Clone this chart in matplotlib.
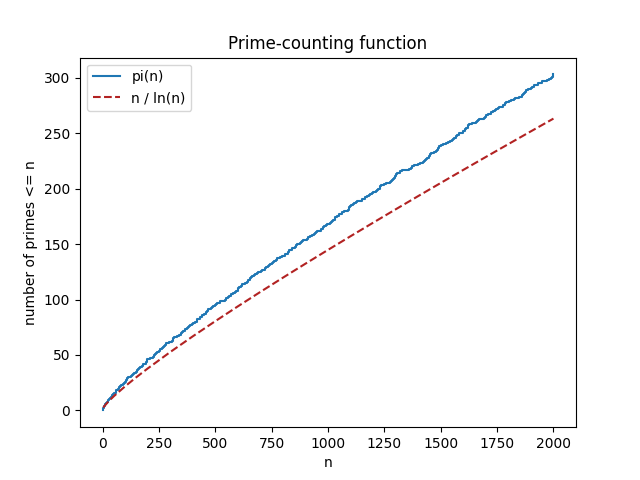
"""Prime-counting function pi(n) against the n / ln(n) estimate."""
import matplotlib
matplotlib.use("Agg")
import matplotlib.pyplot as plt
import numpy as np

# primes up to 2000 (pi(n) is the running count of these)
PRIMES = [
    2, 3, 5, 7, 11, 13, 17, 19, 23, 29, 31, 37, 41, 43, 47, 53, 59, 61, 67, 71, 73, 79, 83, 89, 97,
    101, 103, 107, 109, 113, 127, 131, 137, 139, 149, 151, 157, 163, 167, 173, 179, 181, 191, 193, 197, 199,
    211, 223, 227, 229, 233, 239, 241, 251, 257, 263, 269, 271, 277, 281, 283, 293,
    307, 311, 313, 317, 331, 337, 347, 349, 353, 359, 367, 373, 379, 383, 389, 397,
    401, 409, 419, 421, 431, 433, 439, 443, 449, 457, 461, 463, 467, 479, 487, 491, 499,
    503, 509, 521, 523, 541, 547, 557, 563, 569, 571, 577, 587, 593, 599,
    601, 607, 613, 617, 619, 631, 641, 643, 647, 653, 659, 661, 673, 677, 683, 691,
    701, 709, 719, 727, 733, 739, 743, 751, 757, 761, 769, 773, 787, 797,
    809, 811, 821, 823, 827, 829, 839, 853, 857, 859, 863, 877, 881, 883, 887,
    907, 911, 919, 929, 937, 941, 947, 953, 967, 971, 977, 983, 991, 997,
    1009, 1013, 1019, 1021, 1031, 1033, 1039, 1049, 1051, 1061, 1063, 1069, 1087, 1091, 1093, 1097,
    1103, 1109, 1117, 1123, 1129, 1151, 1153, 1163, 1171, 1181, 1187, 1193,
    1201, 1213, 1217, 1223, 1229, 1231, 1237, 1249, 1259, 1277, 1279, 1283, 1289, 1291, 1297,
    1301, 1303, 1307, 1319, 1321, 1327, 1361, 1367, 1373, 1381, 1399,
    1409, 1423, 1427, 1429, 1433, 1439, 1447, 1451, 1453, 1459, 1471, 1481, 1483, 1487, 1489, 1493, 1499,
    1511, 1523, 1531, 1543, 1549, 1553, 1559, 1567, 1571, 1579, 1583, 1597,
    1601, 1607, 1609, 1613, 1619, 1621, 1627, 1637, 1657, 1663, 1667, 1669, 1693, 1697, 1699,
    1709, 1721, 1723, 1733, 1741, 1747, 1753, 1759, 1777, 1783, 1787, 1789,
    1801, 1811, 1823, 1831, 1847, 1861, 1867, 1871, 1873, 1877, 1879, 1889,
    1901, 1907, 1913, 1931, 1933, 1949, 1951, 1973, 1979, 1987, 1993, 1997, 1999,
]
N_MAX = 2000

# n / ln(n) estimate, sampled points
EST_N = [2, 5, 10, 25, 50, 100, 150, 200, 300, 400, 500, 600, 700, 800, 900, 1000,
         1100, 1200, 1300, 1400, 1500, 1600, 1700, 1800, 1900, 2000]
EST_VAL = [2.89, 3.11, 4.34, 7.77, 12.78, 21.71, 29.94, 37.75, 52.60, 66.76, 80.46, 93.80,
           106.85, 119.68, 132.31, 144.76, 157.07, 169.25, 181.31, 193.26, 205.11, 216.87,
           228.54, 240.14, 251.67, 263.13]

fig, ax = plt.subplots(figsize=(6.4, 4.8), dpi=100)

counts = np.arange(1, len(PRIMES) + 1)
step_x = [0] + PRIMES + [N_MAX]
step_y = [0] + list(counts) + [counts[-1]]
ax.step(step_x, step_y, where="post", color="#1f77b4", linewidth=1.5, label="pi(n)")
ax.plot(EST_N, EST_VAL, color="#b22222", linestyle="--", linewidth=1.5, label="n / ln(n)")

ax.set_title("Prime-counting function")
ax.set_xlabel("n")
ax.set_ylabel("number of primes <= n")
ax.legend(loc="upper left")

fig.savefig("out.png", dpi=100)
